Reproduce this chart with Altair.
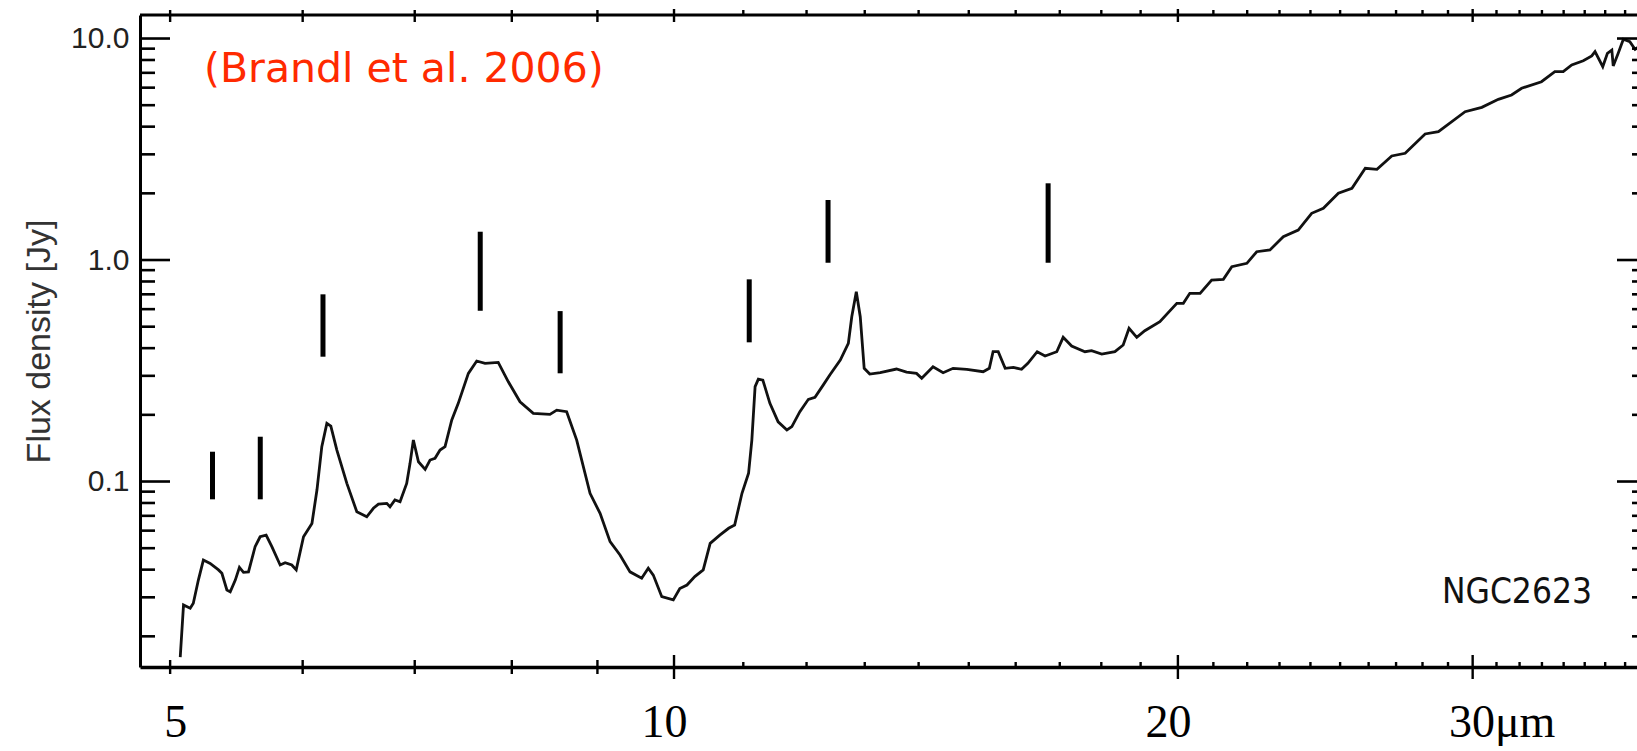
import altair as alt
import pandas as pd

# Spitzer IRS spectrum of NGC 2623: wavelength (micron) and flux density (Jy)
wavelength = [
    5.07, 5.093, 5.14, 5.162, 5.198, 5.234, 5.283, 5.344, 5.369, 5.406,
    5.431, 5.469, 5.5, 5.531, 5.569, 5.62, 5.659, 5.706, 5.751, 5.817,
    5.857, 5.911, 5.947, 6.007, 6.077, 6.119, 6.16, 6.203, 6.237, 6.289,
    6.376, 6.464, 6.553, 6.613, 6.659, 6.736, 6.766, 6.812, 6.86, 6.923,
    6.955, 6.987, 7.036, 7.101, 7.149, 7.198, 7.248, 7.298, 7.366, 7.432,
    7.536, 7.623, 7.711, 7.852, 7.962, 8.091, 8.24, 8.431, 8.51, 8.627,
    8.747, 8.909, 9.033, 9.158, 9.284, 9.413, 9.565, 9.652, 9.719, 9.833,
    9.99, 10.08, 10.18, 10.29, 10.41, 10.51, 10.65, 10.78, 10.87, 10.98,
    11.08, 11.13, 11.18, 11.23, 11.3, 11.41, 11.54, 11.68, 11.76, 11.89,
    12.03, 12.14, 12.28, 12.39, 12.57, 12.71, 12.77, 12.85, 12.92, 12.99,
    13.09, 13.28, 13.58, 13.77, 13.96, 14.06, 14.28, 14.48, 14.68, 14.96,
    15.3, 15.43, 15.51, 15.62, 15.77, 15.95, 16.13, 16.27, 16.48, 16.66,
    16.93, 17.08, 17.28, 17.6, 17.76, 18.01, 18.34, 18.55, 18.7, 18.9,
    19.11, 19.51, 19.97, 20.15, 20.33, 20.62, 20.95, 21.29, 21.54, 21.99,
    22.29, 22.7, 23.12, 23.6, 24.04, 24.43, 24.94, 25.41, 25.88, 26.3,
    26.84, 27.34, 28.1, 28.62, 29.69, 30.38, 31.08, 31.65, 32.09, 32.98,
    33.59, 33.98, 34.38, 34.93, 35.34, 35.5, 35.88, 36.11, 36.33, 36.4,
    36.65, 36.91, 37.24, 37.51, 37.8,
]
flux = [
    0.0161, 0.0277, 0.0268, 0.0282, 0.0359, 0.0442, 0.0427, 0.0399, 0.0385, 0.0324,
    0.0318, 0.0359, 0.041, 0.0389, 0.0391, 0.0508, 0.0563, 0.0573, 0.0508, 0.042,
    0.043, 0.042, 0.0399, 0.0563, 0.0647, 0.0915, 0.1436, 0.183, 0.178, 0.1387,
    0.0981, 0.073, 0.0693, 0.0757, 0.0791, 0.0797, 0.0769, 0.0825, 0.081, 0.0981,
    0.1208, 0.1539, 0.1228, 0.1135, 0.125, 0.1273, 0.1387, 0.1436, 0.1895, 0.2254,
    0.3078, 0.35, 0.3417, 0.345, 0.282, 0.229, 0.203, 0.201, 0.21, 0.2066,
    0.1539, 0.0885, 0.0718, 0.0535, 0.0466, 0.0391, 0.0366, 0.0406, 0.0378, 0.0302,
    0.0292, 0.0329, 0.0341, 0.0372, 0.0399, 0.0526, 0.0573, 0.0615, 0.0636, 0.0885,
    0.1089, 0.1539, 0.268, 0.29, 0.287, 0.2254, 0.186, 0.171, 0.177, 0.2066,
    0.235, 0.24, 0.273, 0.3025, 0.3535, 0.4206, 0.5546, 0.719, 0.5546, 0.3243,
    0.3056, 0.3098, 0.322, 0.312, 0.3078, 0.2924, 0.3298, 0.3098, 0.3243, 0.321,
    0.313, 0.3243, 0.3855, 0.3855, 0.3243, 0.3278, 0.321, 0.3417, 0.3855, 0.3686,
    0.3855, 0.4477, 0.409, 0.3855, 0.3895, 0.3763, 0.3855, 0.4132, 0.4915, 0.4477,
    0.4795, 0.5266, 0.6375, 0.6375, 0.7074, 0.7074, 0.8124, 0.818, 0.933, 0.966,
    1.09, 1.11, 1.274, 1.366, 1.625, 1.712, 2.001, 2.107, 2.594, 2.568,
    2.949, 3.032, 3.707, 3.797, 4.673, 4.891, 5.316, 5.559, 5.961, 6.383,
    7.085, 7.085, 7.594, 7.941, 8.341, 8.719, 7.461, 8.576, 8.875, 7.516,
    8.576, 9.92, 9.674, 8.939, 9.3,
]
assert len(wavelength) == len(flux)

# PAH feature markers: wavelength, bottom and top of each bar (Jy)
feature_wl = [5.30, 5.66, 6.17, 7.66, 8.55, 11.09, 12.36, 16.73]
feature_lo = [0.0831, 0.0831, 0.366, 0.590, 0.308, 0.425, 0.972, 0.972]
feature_hi = [0.1363, 0.1593, 0.700, 1.342, 0.588, 0.818, 1.866, 2.220]

# Tick values
y_major = [0.1, 1.0, 10.0]
y_minor = [0.02, 0.03, 0.04, 0.05, 0.06, 0.07, 0.08, 0.09,
           0.2, 0.3, 0.4, 0.5, 0.6, 0.7, 0.8, 0.9,
           2, 3, 4, 5, 6, 7, 8, 9]
x_labelled = [5, 10, 20, 30]
x_major = [10, 20, 30]
x_mid = [5, 6, 7, 8, 9]
x_minor = [11, 12, 13, 14, 15, 16, 17, 18, 19,
           21, 22, 23, 24, 25, 26, 27, 28, 29,
           31, 32, 33, 34, 35, 36, 37]

W, H = 1497, 652

xs = alt.Scale(type="log", domain=[4.797, 37.61], nice=False)
ys = alt.Scale(type="log", domain=[0.01454, 12.77], nice=False)

x_axis = alt.Axis(
    values=x_labelled, title=None, ticks=False, grid=False,
    domainWidth=3.5, domainColor="black",
    labelExpr="datum.value == 30 ? '30\u03bcm' : '' + datum.value",
    labelFont="Liberation Serif", labelFontSize=46, labelColor="black",
    labelBaseline="alphabetic", labelPadding=69, labelFlush=False,
    labelOffset={
        "condition": [
            {"test": "datum.value == 30", "value": 29},
            {"test": "datum.value == 5", "value": 5},
        ],
        "value": -10,
    },
)
y_axis = alt.Axis(
    values=y_major, format=".1f", ticks=False, grid=False,
    domainWidth=3, domainColor="black",
    labelFont="Liberation Sans", labelFontSize=30, labelColor="#222222",
    labelPadding=11,
    title="Flux density [Jy]", titleFont="Liberation Sans", titleFontSize=34,
    titleFontWeight="normal", titleColor="#333333", titlePadding=14,
)

spec = pd.DataFrame({"wl": wavelength, "flux": flux})

line = alt.Chart(spec).mark_line(color="#111111", strokeWidth=2.8, clip=True).encode(
    x=alt.X("wl:Q", scale=xs, axis=x_axis),
    y=alt.Y("flux:Q", scale=ys, axis=y_axis),
)

features = alt.Chart(
    pd.DataFrame({"wl": feature_wl, "flux": feature_lo, "flux_hi": feature_hi})
).mark_rule(color="black", strokeWidth=5).encode(
    x=alt.X("wl:Q", scale=xs),
    y=alt.Y("flux:Q", scale=ys),
    y2="flux_hi:Q",
)

# frame top edge
top_edge = alt.Chart(pd.DataFrame({"k": [0]})).mark_rule(color="black", strokeWidth=3).encode(
    x=alt.value(0), x2=alt.value(W), y=alt.value(0)
)


def y_ticks(values, x0, x1):
    return alt.Chart(pd.DataFrame({"flux": values})).mark_rule(color="black", strokeWidth=2.6).encode(
        y=alt.Y("flux:Q", scale=ys), x=alt.value(x0), x2=alt.value(x1)
    )


def x_ticks(values, y0, y1):
    return alt.Chart(pd.DataFrame({"wl": values})).mark_rule(color="black", strokeWidth=2.4).encode(
        x=alt.X("wl:Q", scale=xs), y=alt.value(y0), y2=alt.value(y1)
    )


tick_layers = [
    y_ticks(y_major, 0, 30), y_ticks(y_minor, 0, 15),
    y_ticks(y_major, W - 20, W), y_ticks(y_minor, W - 5, W),
    x_ticks(x_major, H - 12, H + 12), x_ticks(x_mid, H - 7, H + 7), x_ticks(x_minor, H - 5, H),
    x_ticks(x_major, -6, 7), x_ticks(x_mid, -5, 7), x_ticks(x_minor, -5, 0),
]

citation = alt.Chart(pd.DataFrame({"t": ["(Brandl et al. 2006)"]})).mark_text(
    align="left", baseline="alphabetic", font="DejaVu Sans", fontSize=41, color="#ff2a00"
).encode(x=alt.value(64), y=alt.value(67), text="t:N")

galaxy = alt.Chart(pd.DataFrame({"t": ["NGC2623"]})).mark_text(
    align="right", baseline="alphabetic",
    font="Liberation Sans Narrow, DejaVu Sans Condensed, Liberation Sans",
    fontSize=35, color="#111111"
).encode(x=alt.value(1452), y=alt.value(588), text="t:N")

chart = alt.layer(line, features, top_edge, *tick_layers, citation, galaxy).properties(
    width=W, height=H,
    padding={"left": 140, "top": 15, "right": 0, "bottom": 79},
    autosize=alt.AutoSizeParams(type="none"),
    background="white",
).configure_view(stroke=None)

chart.save("out.html", embed_options={"renderer": "svg", "actions": False})
